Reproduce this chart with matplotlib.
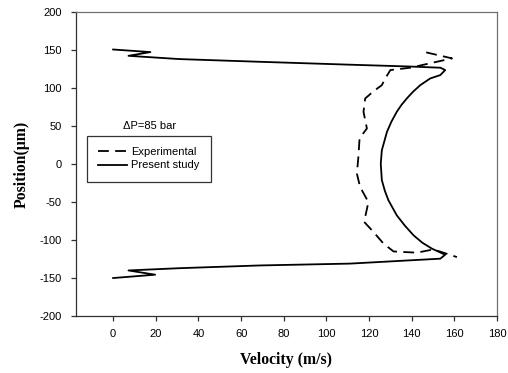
import matplotlib
matplotlib.use("Agg")
import matplotlib.pyplot as plt

# Velocity profiles across the channel (velocity in m/s, position in micrometres)
exp_velocity = [146.8, 158.9, 139.3, 130.0, 127.6, 126.0, 122.1, 118.2, 117.4, 119.0,
                116.6, 115.5, 115.0, 114.3, 115.8, 119.7, 117.7, 122.1, 126.8, 131.5,
                142.4, 150.2, 161.2]
exp_position = [147.2, 139.3, 127.0, 123.9, 112.9, 104.0, 96.0, 86.5, 68.9, 47.0,
                38.0, 31.5, 9.5, -12.4, -30.0, -50.0, -76.0, -89.4, -104.7, -115.0,
                -116.6, -112.3, -122.4]

model_velocity = [0.0, 17.5, 7.2, 31.0, 69.0, 111.0, 139.0, 153.5, 155.7, 153.4,
                  148.7, 144.0, 140.5, 137.7, 135.2, 133.0, 130.5, 128.4, 126.0, 125.5,
                  126.0, 127.4, 129.1, 133.0, 136.8, 140.9, 145.0, 149.5, 155.7, 153.4,
                  111.0, 69.0, 31.4, 7.2, 19.7, 0.0]
model_position = [151.0, 147.6, 142.7, 138.4, 134.8, 131.0, 128.6, 127.0, 123.9, 117.3,
                  112.9, 104.0, 95.0, 86.5, 78.0, 68.9, 56.0, 42.5, 18.3, 0.8,
                  -21.0, -35.0, -47.6, -67.4, -81.0, -93.8, -103.5, -111.3, -119.3, -124.5,
                  -131.0, -133.4, -137.0, -140.0, -145.6, -150.0]

x_ticks = [0, 20, 40, 60, 80, 100, 120, 140, 160, 180]
y_ticks = [-200, -150, -100, -50, 0, 50, 100, 150, 200]

fig = plt.figure(figsize=(5.08, 3.73), dpi=100)
ax = fig.add_axes([76 / 508, 1 - 316 / 373, (497 - 76) / 508, (316 - 12.3) / 373])

ax.plot(exp_velocity, exp_position, color="black", lw=1.3, dashes=(6, 3.5),
        label="Experimental")
ax.plot(model_velocity, model_position, color="black", lw=1.3, label="Present study")

ax.set_xlim(-17.4, 180)
ax.set_ylim(-200, 200)
ax.set_xticks(x_ticks)
ax.set_yticks(y_ticks)

tick_font = {"family": "Liberation Sans", "size": 8}
ax.set_xticklabels([str(v) for v in x_ticks], fontdict=tick_font)
ax.set_yticklabels([str(v) for v in y_ticks], fontdict=tick_font)
ax.tick_params(axis="both", direction="out", length=3.6, width=0.9, color="#303030")
ax.tick_params(axis="y", pad=6.5)
ax.tick_params(axis="x", pad=5.5)

for side in ("left", "bottom"):
    ax.spines[side].set_color("#303030")
    ax.spines[side].set_linewidth(0.9)
for side in ("top", "right"):
    ax.spines[side].set_color("#707070")
    ax.spines[side].set_linewidth(0.9)

label_font = {"family": "Liberation Serif", "weight": "bold", "size": 11.3}
fig.text(286.5 / 508, 1 - 360 / 373, "Velocity (m/s)", ha="center", va="center",
         fontdict=label_font)
fig.text(22 / 508, 1 - 164 / 373, "Position(\u03bcm)", ha="center", va="center",
         rotation=90, fontdict=label_font)

fig.text(150 / 508, 1 - 126 / 373, "\u0394P=85 bar", ha="center", va="center",
         family="Liberation Sans", size=8)

leg = ax.legend(loc="upper left", bbox_to_anchor=(87 / 508, 1 - 136 / 373),
                bbox_transform=fig.transFigure, borderaxespad=0,
                prop={"family": "Liberation Sans", "size": 8},
                handlelength=2.6, handletextpad=0.4, labelspacing=0.3,
                borderpad=1.0, fancybox=False, frameon=True)
leg.get_frame().set_edgecolor("black")
leg.get_frame().set_linewidth(0.9)

fig.savefig("out.png", dpi=100)
